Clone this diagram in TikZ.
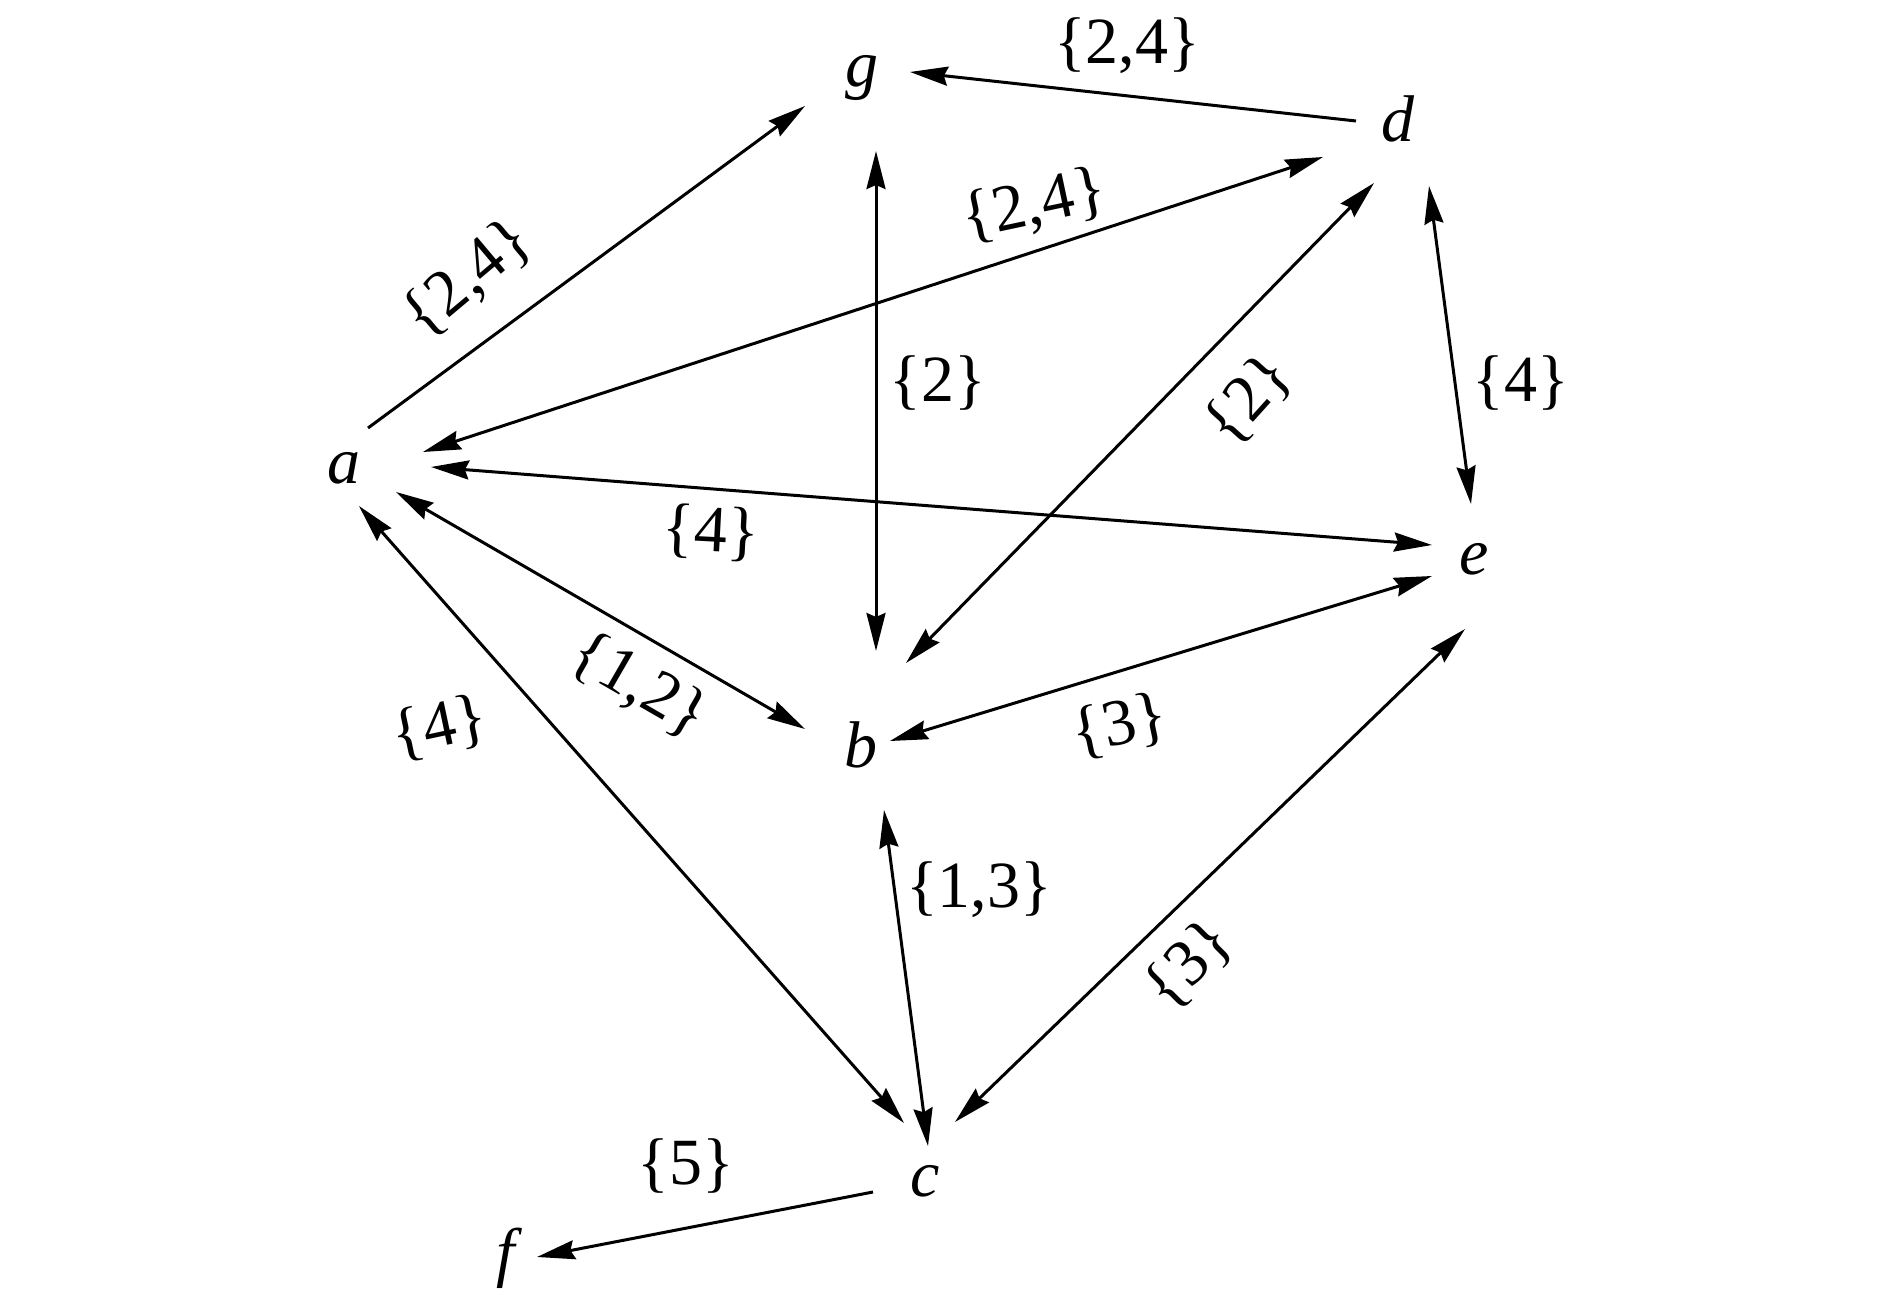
\documentclass[tikz,border=0pt]{standalone}
\usepackage{fontspec}
\setmainfont{Liberation Serif}
\usetikzlibrary{arrows.meta}
\begin{document}
\begin{tikzpicture}[x={(0.5pt,0)},y={(0,-0.5pt)},
  vert/.style={inner sep=0pt,font=\fontsize{33}{36}\selectfont\itshape},
  lab/.style={inner sep=0pt,font=\fontsize{33}{36}\selectfont},
  edge/.style={line width=1.5pt,-{Stealth[length=19pt,width=9.5pt,inset=2pt]}},
  bedge/.style={line width=1.5pt,{Stealth[length=19pt,width=9.5pt,inset=2pt]}-{Stealth[length=19pt,width=9.5pt,inset=2pt]}}]
\useasboundingbox (0,0) rectangle (1890,1299);
\node[vert] (a) at (344,468) {a};
\node[vert] (g) at (862,78) {g};
\node[vert] (d) at (1398,119) {d};
\node[vert] (e) at (1474,559) {e};
\node[vert] (b) at (861,745) {b};
\node[vert] (c) at (925,1181) {c};
\node[vert] (f) at (506,1258) {f};
% edges
\draw[edge] ([shift={(24,-40)}]a.center) -- ([shift={(-57,28)}]g.center);
\draw[edge] ([shift={(-42,2)}]d.center) -- ([shift={(48,-6)}]g.center);
\draw[bedge] ([shift={(14,73)}]g.center) -- ([shift={(15,-94)}]b.center);
\draw[bedge] ([shift={(-75,38)}]d.center) -- ([shift={(79,-16)}]a.center);
\draw[bedge] ([shift={(-24,64)}]d.center) -- ([shift={(45,-82)}]b.center);
\draw[bedge] ([shift={(31,67)}]d.center) -- ([shift={(-3,-55)}]e.center);
\draw[bedge] ([shift={(87,-1)}]a.center) -- ([shift={(-42,-14)}]e.center);
\draw[bedge] ([shift={(52,24)}]a.center) -- ([shift={(-56,-16)}]b.center);
\draw[bedge] ([shift={(29,-4)}]b.center) -- ([shift={(-42,17)}]e.center);
\draw[bedge] ([shift={(15,38)}]a.center) -- ([shift={(-21,-58)}]c.center);
\draw[bedge] ([shift={(23,65)}]b.center) -- ([shift={(3,-35)}]c.center);
\draw[bedge] ([shift={(-9,70)}]e.center) -- ([shift={(30,-59)}]c.center);
\draw[edge] ([shift={(-52,11)}]c.center) -- ([shift={(31,-1)}]f.center);
% labels
\node[lab,rotate=40] (l1) at (468,279) {\{2,4\}};
\node[lab] (l2) at (1127,46) {\{2,4\}};
\node[lab] (l3) at (938,383) {\{2\}};
\node[lab,rotate=12] (l4) at (1034,206) {\{2,4\}};
\node[lab,rotate=48] (l5) at (1249,400) {\{2\}};
\node[lab] (l6) at (1521,383) {\{4\}};
\node[lab,rotate=-3] (l7) at (711,533) {\{4\}};
\node[lab,rotate=-30] (l8) at (639,686) {\{1,2\}};
\node[lab,rotate=12] (l9) at (1120,726) {\{3\}};
\node[lab,rotate=12] (l10) at (440,728) {\{4\}};
\node[lab] (l11) at (979,890) {\{1,3\}};
\node[lab,rotate=45] (l12) at (1189,965) {\{3\}};
\node[lab] (l13) at (686,1166) {\{5\}};
\end{tikzpicture}
\end{document}
